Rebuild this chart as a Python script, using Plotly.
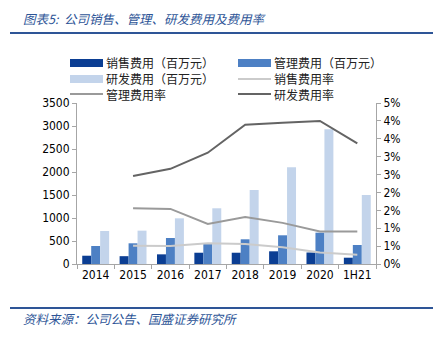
import plotly.graph_objects as go

categories = ["2014", "2015", "2016", "2017", "2018", "2019", "2020", "1H21"]
sales_exp = [180, 170, 210, 245, 245, 276, 250, 137]
admin_exp = [391, 450, 565, 441, 537, 624, 681, 413]
rd_exp = [717, 725, 993, 1211, 1609, 2102, 2928, 1500]

rate_categories = ["2015", "2016", "2017", "2018", "2019", "2020", "1H21"]
sales_rate = [0.0051, 0.0050, 0.0058, 0.0056, 0.0047, 0.0032, 0.0026]
admin_rate = [0.0156, 0.0154, 0.0112, 0.0131, 0.0115, 0.0091, 0.0091]
rd_rate = [0.0246, 0.0266, 0.0311, 0.0389, 0.0395, 0.0400, 0.0337]

left_ticks = [0, 500, 1000, 1500, 2000, 2500, 3000, 3500]
right_tickvals = [0, 0.005, 0.01, 0.015, 0.02, 0.025, 0.03, 0.035, 0.04, 0.045]
right_ticktext = ["0%", "1%", "1%", "2%", "2%", "3%", "3%", "4%", "4%", "5%"]

title_text = "图表5:  公司销售、管理、研发费用及费用率"
source_text = "资料来源：公司公告、国盛证券研究所"

C_SALES = "#0B3E93"
C_ADMIN = "#4D80C4"
C_RD = "#C3D4EB"
C_SALES_R = "#CBCBCB"
C_ADMIN_R = "#9A9A9A"
C_RD_R = "#646464"
BLUE = "#2E5597"

W, H = 436, 338
ML, MR, MT, MB = 77, 60, 103, 74
PW, PH = W - ML - MR, H - MT - MB


def px(x):
    return (x - ML) / PW


def py(y):
    return (H - MB - y) / PH


fig = go.Figure()
bar_specs = [("销售费用（百万元）", sales_exp, C_SALES),
             ("管理费用（百万元）", admin_exp, C_ADMIN),
             ("研发费用（百万元）", rd_exp, C_RD)]
for name, vals, col in bar_specs:
    fig.add_trace(go.Bar(x=categories, y=vals, name=name, marker_color=col,
                         marker_line_width=0, showlegend=False))

line_specs = [("销售费用率", sales_rate, C_SALES_R),
              ("管理费用率", admin_rate, C_ADMIN_R),
              ("研发费用率", rd_rate, C_RD_R)]
for name, vals, col in line_specs:
    fig.add_trace(go.Scatter(x=rate_categories, y=vals, name=name, mode="lines",
                             line=dict(color=col, width=2), yaxis="y2",
                             showlegend=False))

CJK = "Noto Sans CJK SC"
NUM = "DejaVu Sans Condensed, DejaVu Sans"
axis_col = "#A6A6A6"

fig.update_layout(
    width=W, height=H,
    margin=dict(l=ML, r=MR, t=MT, b=MB),
    paper_bgcolor="white", plot_bgcolor="white",
    barmode="group", bargap=0.28, bargroupgap=0,
    font=dict(family=NUM, size=12, color="#000000"),
    xaxis=dict(type="category", categoryorder="array", categoryarray=categories,
               showline=True, linecolor=axis_col, linewidth=1, tickangle=0,
               ticks="outside", ticklen=4, tickcolor=axis_col, tickson="boundaries",
               showgrid=False, tickfont=dict(family=NUM, size=12, color="#000")),
    yaxis=dict(range=[0, 3500], tickvals=left_ticks, showline=True, linecolor=axis_col,
               ticks="outside", ticklen=4, tickcolor=axis_col, showgrid=False,
               zeroline=False, tickfont=dict(family=NUM, size=12, color="#000")),
    yaxis2=dict(range=[0, 0.045], overlaying="y", side="right",
                tickvals=right_tickvals, ticktext=right_ticktext,
                showline=True, linecolor=axis_col, ticks="outside", ticklen=4,
                tickcolor=axis_col, showgrid=False, zeroline=False,
                tickfont=dict(family=NUM, size=12, color="#000")),
)

shapes = []
annotations = []

# title and source with rules
annotations.append(dict(xref="paper", yref="paper", x=px(21), y=py(18), xanchor="left",
                        yanchor="middle", text=title_text, showarrow=False,
                        font=dict(family=CJK, size=12.5, color=BLUE, style="italic")))
shapes.append(dict(type="line", xref="paper", yref="paper", x0=px(10), x1=px(433),
                   y0=py(33), y1=py(33), line=dict(color=BLUE, width=2)))
shapes.append(dict(type="line", xref="paper", yref="paper", x0=px(10), x1=px(433),
                   y0=py(308), y1=py(308), line=dict(color=BLUE, width=2)))
annotations.append(dict(xref="paper", yref="paper", x=px(21), y=py(318), xanchor="left",
                        yanchor="middle", text=source_text, showarrow=False,
                        font=dict(family=CJK, size=12.5, color=BLUE, style="italic")))

# legend (manual, to get wide swatches)
legend_items = [
    ("bar", bar_specs[0][0], C_SALES, 70, 63),
    ("bar", bar_specs[1][0], C_ADMIN, 238, 63),
    ("bar", bar_specs[2][0], C_RD, 70, 79),
    ("line", line_specs[0][0], C_SALES_R, 238, 79),
    ("line", line_specs[1][0], C_ADMIN_R, 70, 94),
    ("line", line_specs[2][0], C_RD_R, 238, 94),
]
for kind, name, col, x0, yc in legend_items:
    if kind == "bar":
        shapes.append(dict(type="rect", xref="paper", yref="paper", x0=px(x0), x1=px(x0 + 33),
                           y0=py(yc - 4), y1=py(yc + 4), fillcolor=col, line=dict(width=0)))
    else:
        shapes.append(dict(type="line", xref="paper", yref="paper", x0=px(x0), x1=px(x0 + 33),
                           y0=py(yc), y1=py(yc), line=dict(color=col, width=2)))
    annotations.append(dict(xref="paper", yref="paper", x=px(x0 + 35), y=py(yc),
                            xanchor="left", yanchor="middle", text=name, showarrow=False,
                            borderpad=0,
                            font=dict(family=CJK, size=12, color="#222222")))

fig.update_layout(shapes=shapes, annotations=annotations)
fig.write_html("out.html")
